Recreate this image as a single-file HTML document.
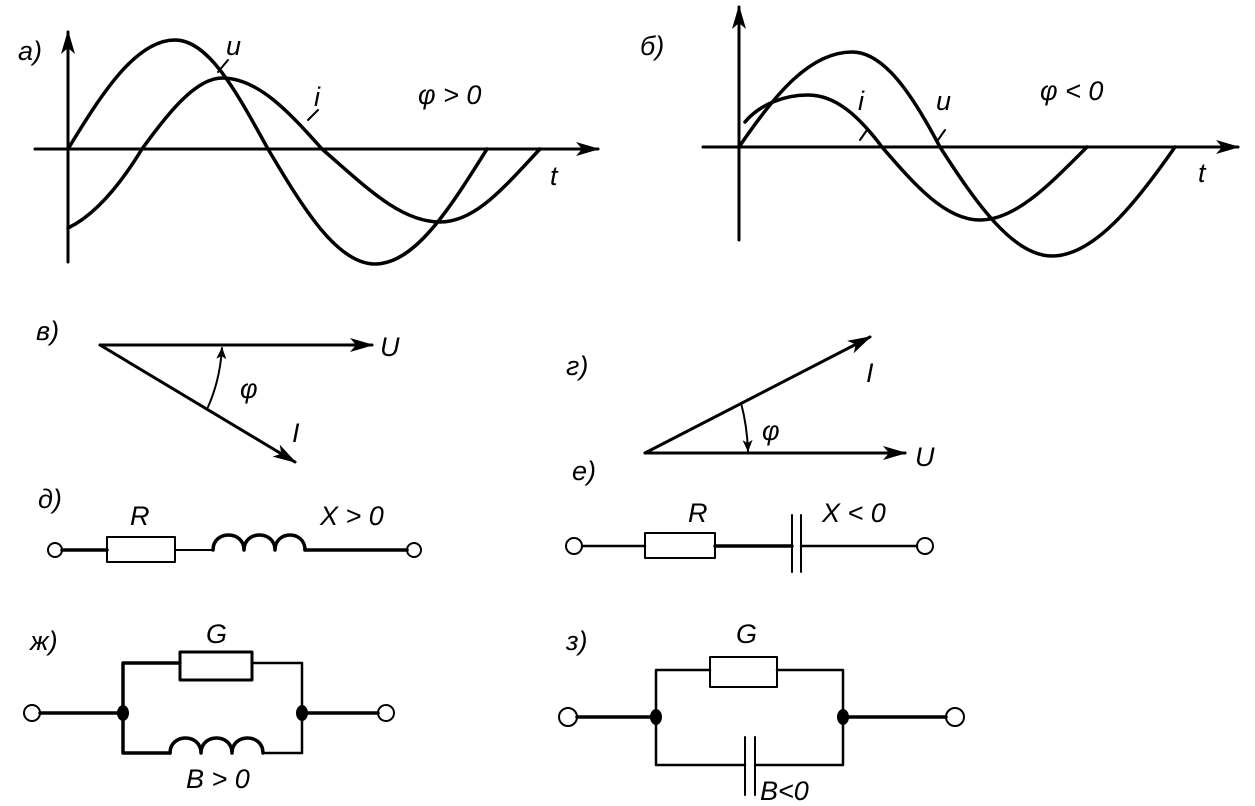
<!DOCTYPE html>
<html><head><meta charset="utf-8"><style>
html,body{margin:0;padding:0;background:#fff}
svg{display:block}
text{font-family:"Liberation Sans","DejaVu Sans",sans-serif;font-style:italic;font-size:27px;fill:#000}
</style></head><body>
<svg width="1255" height="806" viewBox="0 0 1255 806" xmlns="http://www.w3.org/2000/svg">
<defs>
<marker id="ar" markerWidth="12" markerHeight="10" refX="11" refY="5" orient="auto" markerUnits="userSpaceOnUse">
<path d="M0,0 L12,5 L0,10 L3,5 Z" fill="#000"/></marker>
<marker id="ar2" markerWidth="24" markerHeight="14" refX="22" refY="7" orient="auto" markerUnits="userSpaceOnUse">
<path d="M0,0 L24,7 L0,14 L6,7 Z" fill="#000"/></marker>
</defs>
<g fill="none" stroke="#000" stroke-width="3.5" stroke-linecap="round" stroke-linejoin="round">
<!-- plot a -->
<line x1="35" y1="149" x2="598" y2="149" stroke-width="3" marker-end="url(#ar2)"/>
<line x1="68" y1="262" x2="68" y2="32" stroke-width="3" marker-end="url(#ar2)"/>
<path d="M68,149 C102,93 136,40 175,40 C209,40 237,93 268,149 C303,208 337,264 375,264 C415,264 450,208 487,149"/>
<path d="M68,228 C95,215 120,185 142,149 C168,113 196,78 222,78 C258,78 289,112 322,149 C365,186 400,222 440,222 C476,222 505,186 540,149"/>
<line x1="218" y1="72" x2="228" y2="60" stroke-width="2"/>
<line x1="308" y1="120" x2="318" y2="110" stroke-width="2"/>
<!-- plot b -->
<line x1="703" y1="147" x2="1238" y2="147" stroke-width="3" marker-end="url(#ar2)"/>
<line x1="739" y1="240" x2="739" y2="7" stroke-width="3" marker-end="url(#ar2)"/>
<path d="M739,147 C775,94 810,52 852,52 C884,52 912,94 940,147 C976,203 1013,256 1052,256 C1094,256 1136,203 1175,147"/>
<path d="M745,122 C760,104 785,95 808,95 C835,95 858,115 882,147 C914,184 945,220 980,220 C1016,220 1050,184 1087,147"/>
<line x1="860" y1="140" x2="867" y2="130" stroke-width="2"/>
<line x1="938" y1="140" x2="945" y2="130" stroke-width="2"/>
<!-- vectors в -->
<line x1="100" y1="345" x2="372" y2="345" stroke-width="3" marker-end="url(#ar2)"/>
<line x1="100" y1="345" x2="295" y2="462" stroke-width="3" marker-end="url(#ar2)"/>
<path d="M208,407 Q220,380 222,348" stroke-width="2" marker-end="url(#ar)"/>
<!-- vectors г -->
<line x1="645" y1="453" x2="870" y2="337" stroke-width="3" marker-end="url(#ar2)"/>
<line x1="645" y1="453" x2="905" y2="453" stroke-width="3" marker-end="url(#ar2)"/>
<path d="M741,403 Q747,425 748,451" stroke-width="2" marker-end="url(#ar)"/>
<!-- д -->
<circle cx="55" cy="550" r="7" stroke-width="2"/>
<line x1="62" y1="550" x2="107" y2="550"/>
<rect x="107" y="537" width="68" height="25" stroke-width="2"/>
<line x1="175" y1="550" x2="213" y2="550" stroke-width="2"/>
<path d="M213,550 C213,530 244,530 244,550 C244,530 275,530 275,550 C275,530 305,530 305,550"/>
<line x1="305" y1="550" x2="407" y2="550"/>
<circle cx="414" cy="550" r="7" stroke-width="2"/>
<!-- е -->
<circle cx="574" cy="546" r="8" stroke-width="2"/>
<line x1="582" y1="546" x2="645" y2="546" stroke-width="2.5"/>
<rect x="645" y="533" width="70" height="25" stroke-width="2"/>
<line x1="715" y1="546" x2="792" y2="546"/>
<line x1="792" y1="515" x2="792" y2="572" stroke-width="2"/>
<line x1="801" y1="515" x2="801" y2="572" stroke-width="2"/>
<line x1="801" y1="546" x2="917" y2="546" stroke-width="2.5"/>
<circle cx="925" cy="546" r="8" stroke-width="2"/>
<!-- ж -->
<circle cx="32" cy="713" r="8" stroke-width="2"/>
<line x1="40" y1="713" x2="123" y2="713"/>
<polyline points="180,663 123,663 123,753 170,753"/>
<rect x="180" y="652" width="72" height="28" stroke-width="3"/>
<polyline points="252,663 302,663 302,753 263,753" stroke-width="2.5"/>
<path d="M170,753 C170,733 201,733 201,753 C201,733 232,733 232,753 C232,733 263,733 263,753"/>
<line x1="302" y1="713" x2="378" y2="713"/>
<circle cx="386" cy="713" r="8" stroke-width="2"/>
<!-- з -->
<circle cx="568" cy="717" r="9" stroke-width="2"/>
<line x1="577" y1="717" x2="656" y2="717"/>
<polyline points="710,670 656,670 656,765 745,765" stroke-width="2.5"/>
<rect x="710" y="657" width="67" height="30" stroke-width="2"/>
<polyline points="777,670 843,670 843,765 755,765" stroke-width="2.5"/>
<line x1="745" y1="737" x2="745" y2="795" stroke-width="2"/>
<line x1="755" y1="737" x2="755" y2="795" stroke-width="2"/>
<line x1="843" y1="717" x2="946" y2="717"/>
<circle cx="955" cy="717" r="9" stroke-width="2"/>
</g>
<g fill="#000">
<ellipse cx="123" cy="713" rx="6" ry="8"/>
<ellipse cx="302" cy="713" rx="6" ry="8"/>
<ellipse cx="656" cy="717" rx="6" ry="8"/>
<ellipse cx="843" cy="717" rx="6" ry="8"/>
</g>
<text x="18" y="60">a)</text>
<text x="226" y="55">u</text>
<text x="314" y="106">i</text>
<text x="418" y="104">φ &gt; 0</text>
<text x="550" y="185" font-size="30">t</text>
<text x="640" y="55">б)</text>
<text x="858" y="110">i</text>
<text x="936" y="110">u</text>
<text x="1040" y="100">φ &lt; 0</text>
<text x="1198" y="182" font-size="30">t</text>
<text x="36" y="340">в)</text>
<text x="380" y="356">U</text>
<text x="240" y="398" font-size="30">φ</text>
<text x="292" y="442">I</text>
<text x="566" y="375">г)</text>
<text x="866" y="382">I</text>
<text x="762" y="440" font-size="30">φ</text>
<text x="915" y="466">U</text>
<text x="572" y="480">е)</text>
<text x="38" y="508">д)</text>
<text x="130" y="525">R</text>
<text x="320" y="525">X &gt; 0</text>
<text x="688" y="522">R</text>
<text x="822" y="522">X &lt; 0</text>
<text x="30" y="650">ж)</text>
<text x="206" y="643">G</text>
<text x="186" y="788">B &gt; 0</text>
<text x="566" y="650">з)</text>
<text x="736" y="643">G</text>
<text x="760" y="800">B&lt;0</text>
</svg>
</body></html>
